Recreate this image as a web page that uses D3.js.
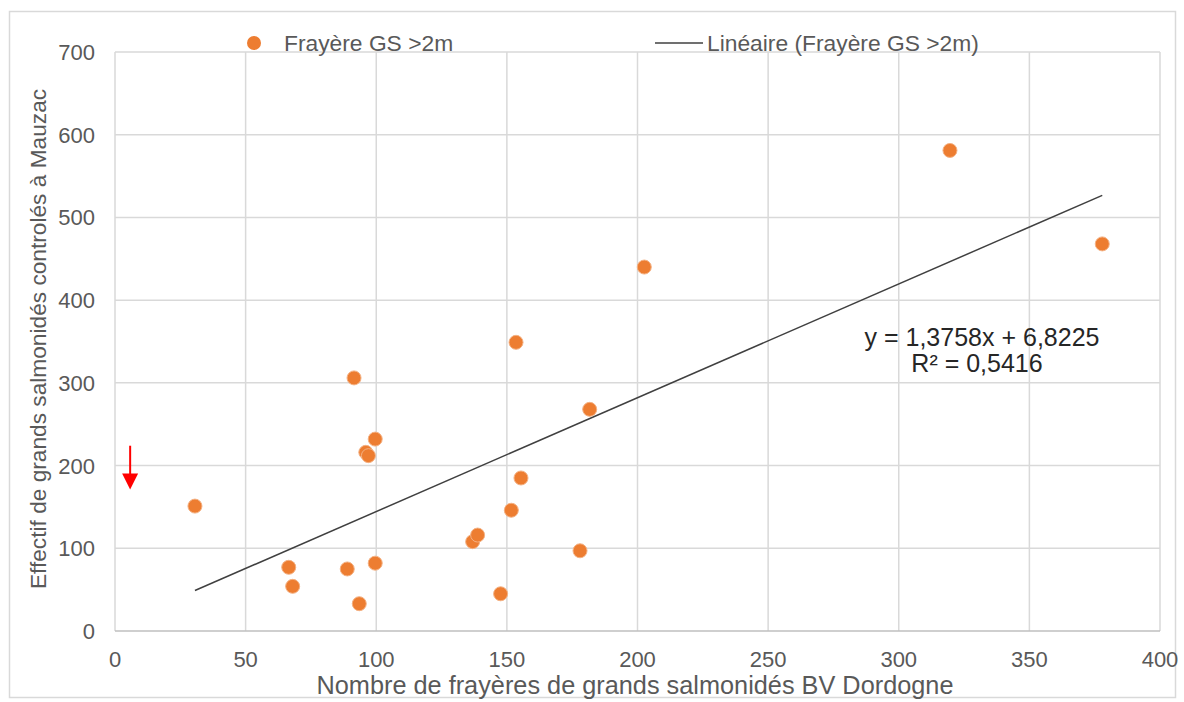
<!DOCTYPE html>
<html>
<head>
<meta charset="utf-8">
<script src="https://d3js.org/d3.v7.min.js"></script>
<style>
  body { margin: 0; background: #fff; }
  text { font-family: "Liberation Sans", Arial, sans-serif; }
</style>
</head>
<body>
<script>
// data
var frayeres = [30.6, 66.5, 68, 88.9, 93.5, 91.5, 96, 97, 99.6, 99.6, 136.9, 138.8, 147.6, 151.7, 153.5, 155.4, 178, 181.7, 202.6, 319.6, 377.9];
var effectifs = [151, 77, 54, 75, 33, 306, 216, 212, 232, 82, 108, 116, 45, 146, 349, 185, 97, 268, 440, 581, 468];
var xTicks = [0, 50, 100, 150, 200, 250, 300, 350, 400];
var yTicks = [0, 100, 200, 300, 400, 500, 600, 700];
var slope = 1.3758, intercept = 6.8225;
var equationLines = ["y = 1,3758x + 6,8225", "R\u00b2 = 0,5416"];
var seriesName = "Fray\u00e8re GS >2m";
var trendName = "Lin\u00e9aire (Fray\u00e8re GS >2m)";
var xTitle = "Nombre de fray\u00e8res de grands salmonid\u00e9s BV Dordogne";
var yTitle = "Effectif de grands salmonid\u00e9s control\u00e9s \u00e0 Mauzac";

var W = 1184, H = 702;
var mLeft = 115, mRight = 1160, mTop = 52, mBottom = 631;

var svg = d3.select("body").append("svg")
  .attr("width", W).attr("height", H);

// outer frame
svg.append("rect")
  .attr("x", 9.5).attr("y", 11.5)
  .attr("width", 1166).attr("height", 686)
  .attr("fill", "none").attr("stroke", "#d9d9d9").attr("stroke-width", 1.5);

var x = d3.scaleLinear().domain([0, 400]).range([mLeft, mRight]);
var y = d3.scaleLinear().domain([0, 700]).range([mBottom, mTop]);

// gridlines
svg.append("g").selectAll("line").data(yTicks.slice(1)).join("line")
  .attr("x1", mLeft).attr("x2", mRight)
  .attr("y1", d => y(d)).attr("y2", d => y(d))
  .attr("stroke", "#d9d9d9").attr("stroke-width", 1.5);
svg.append("g").selectAll("line").data(xTicks).join("line")
  .attr("x1", d => x(d)).attr("x2", d => x(d))
  .attr("y1", mTop).attr("y2", mBottom)
  .attr("stroke", "#d9d9d9").attr("stroke-width", 1.5);

// axis line at 0
svg.append("line")
  .attr("x1", mLeft).attr("x2", mRight)
  .attr("y1", y(0)).attr("y2", y(0))
  .attr("stroke", "#bfbfbf").attr("stroke-width", 1.5);

// tick labels
svg.append("g").selectAll("text").data(yTicks).join("text")
  .attr("x", 95).attr("y", d => y(d) + 8)
  .attr("text-anchor", "end")
  .attr("font-size", "22px").attr("fill", "#595959")
  .text(d => d);
svg.append("g").selectAll("text").data(xTicks).join("text")
  .attr("x", d => x(d)).attr("y", 667)
  .attr("text-anchor", "middle")
  .attr("font-size", "22px").attr("fill", "#595959")
  .text(d => d);

// axis titles
svg.append("text")
  .attr("x", 635).attr("y", 694)
  .attr("text-anchor", "middle")
  .attr("font-size", "25.3px").attr("fill", "#595959")
  .text(xTitle);
svg.append("text")
  .attr("transform", "translate(46,339) rotate(-90)")
  .attr("text-anchor", "middle")
  .attr("font-size", "22.7px").attr("fill", "#595959")
  .text(yTitle);

// trend line over data range
var ext = d3.extent(frayeres);
svg.append("line")
  .attr("x1", x(ext[0])).attr("y1", y(slope * ext[0] + intercept))
  .attr("x2", x(ext[1])).attr("y2", y(slope * ext[1] + intercept))
  .attr("stroke", "#404040").attr("stroke-width", 1.5);

// points
var pts = frayeres.map((v, i) => ({x: v, y: effectifs[i]}));
svg.append("g").selectAll("circle").data(pts).join("circle")
  .attr("cx", d => x(d.x)).attr("cy", d => y(d.y))
  .attr("r", 7)
  .attr("fill", "#ed7d31")
  .attr("stroke", "#f4b183").attr("stroke-width", 1);

// equation
svg.append("g").selectAll("text").data(equationLines).join("text")
  .attr("x", (d, i) => i ? 977 : 982).attr("y", (d, i) => 346 + i * 26)
  .attr("text-anchor", "middle")
  .attr("font-size", "25px").attr("fill", "#262626")
  .text(d => d);

// legend
svg.append("circle").attr("cx", 254).attr("cy", 43).attr("r", 7).attr("fill", "#ed7d31");
svg.append("text").attr("x", 284).attr("y", 51)
  .attr("font-size", "22.8px").attr("fill", "#595959").text(seriesName);
svg.append("line").attr("x1", 655).attr("x2", 703).attr("y1", 43).attr("y2", 43)
  .attr("stroke", "#404040").attr("stroke-width", 1.5);
svg.append("text").attr("x", 707).attr("y", 51)
  .attr("font-size", "22.8px").attr("fill", "#595959").text(trendName);

// red arrow annotation
var ax = x(5.8), ay1 = y(224), ay2 = y(171);
svg.append("line").attr("x1", ax).attr("x2", ax).attr("y1", ay1).attr("y2", ay2 - 14)
  .attr("stroke", "#ff0000").attr("stroke-width", 2);
svg.append("path")
  .attr("d", "M" + (ax - 8) + "," + (ay2 - 16) + "L" + (ax + 8) + "," + (ay2 - 16) + "L" + ax + "," + ay2 + "Z")
  .attr("fill", "#ff0000");
</script>
</body>
</html>
